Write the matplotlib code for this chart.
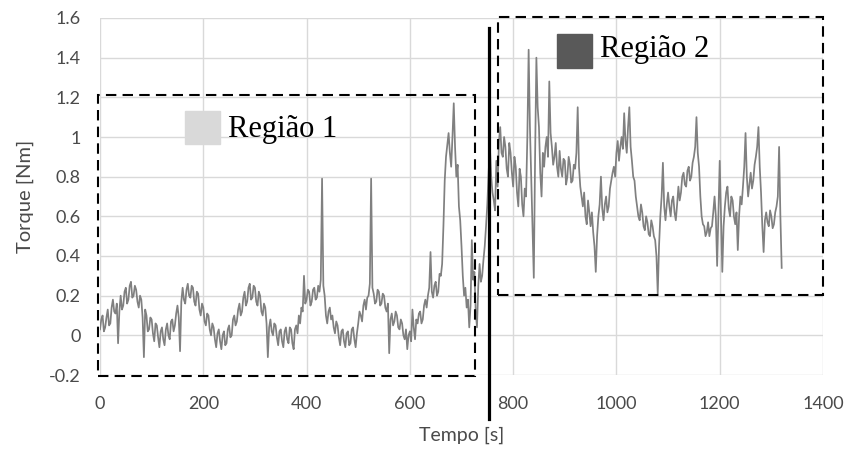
import numpy as np
import matplotlib
matplotlib.use("Agg")
import matplotlib.pyplot as plt
from matplotlib.patches import Rectangle

# ---- data ----
time_step = 2.5
torque = [
    0.03, 0.08, 0.10, 0.02, 0.04, 0.09, 0.13, 0.05, 0.06, 0.14, 0.18, 0.12, 0.11, 0.16, -0.04, 0.12, 0.20, 0.13, 0.15, 0.22,
    0.24, 0.16, 0.18, 0.25, 0.27, 0.19, 0.20, 0.25, 0.23, 0.17, 0.14, 0.20, 0.18, 0.09, -0.11, 0.13, 0.10, 0.02, 0.03, 0.09,
    0.08, 0.01, -0.03, 0.06, 0.05, -0.01, -0.06, 0.02, 0.04, -0.02, -0.05, 0.03, 0.06, 0.00, -0.02, 0.07, 0.08, 0.02, 0.05, 0.11,
    0.15, 0.09, -0.08, 0.17, 0.24, 0.18, 0.16, 0.23, 0.26, 0.20, 0.19, 0.25, 0.24, 0.17, 0.15, 0.22, 0.21, 0.13, 0.10, 0.16,
    0.14, 0.07, 0.05, 0.11, 0.10, 0.03, 0.00, 0.06, 0.04, -0.02, -0.06, 0.01, 0.03, -0.03, -0.07, 0.00, 0.02, -0.05, -0.04, 0.03,
    0.05, -0.01, 0.00, 0.08, 0.10, 0.05, 0.07, 0.13, 0.16, 0.10, 0.12, 0.19, 0.22, 0.15, 0.17, 0.24, 0.26, 0.18, 0.19, 0.25,
    0.24, 0.17, 0.15, 0.22, 0.20, 0.12, 0.10, 0.16, 0.14, 0.06, -0.11, 0.04, 0.08, 0.02, 0.00, 0.06, 0.05, -0.01, -0.05, 0.02,
    0.03, -0.03, -0.06, 0.02, 0.04, -0.02, -0.04, 0.04, 0.03, -0.04, -0.07, 0.03, 0.05, 0.01, 0.10, 0.06, 0.14, 0.12, 0.30, 0.16,
    0.18, 0.23, 0.22, 0.15, 0.17, 0.23, 0.24, 0.18, 0.19, 0.25, 0.22, 0.28, 0.79, 0.25, 0.20, 0.10, 0.06, 0.12, 0.14, 0.08,
    0.10, 0.04, 0.01, 0.07, 0.05, -0.01, -0.05, 0.02, 0.03, -0.03, -0.06, 0.01, 0.02, -0.05, -0.04, 0.03, 0.04, -0.02, -0.06, 0.01,
    0.06, 0.12, 0.10, 0.07, 0.15, 0.18, 0.13, 0.19, 0.20, 0.26, 0.79, 0.24, 0.21, 0.16, 0.17, 0.23, 0.22, 0.15, 0.16, 0.21,
    0.20, 0.14, 0.12, 0.16, -0.09, 0.08, 0.11, 0.05, 0.07, 0.12, 0.10, 0.04, 0.03, 0.08, 0.06, 0.00, -0.02, 0.03, -0.07, 0.00,
    0.02, -0.03, 0.13, 0.04, -0.02, 0.08, 0.06, 0.11, 0.12, 0.06, 0.08, 0.15, 0.18, 0.14, 0.20, 0.24, 0.42, 0.22, 0.19, 0.25,
    0.27, 0.20, 0.22, 0.31, 0.30, 0.36, 0.55, 0.78, 0.90, 0.96, 1.02, 0.92, 0.85, 1.00, 1.17, 0.95, 0.80, 0.86, 0.65, 0.58,
    0.45, 0.30, 0.20, 0.24, 0.14, 0.18, 0.04, 0.15, 0.48, 0.28, 0.32, 0.12, 0.04, 0.25, 0.36, 0.27, 0.30, 0.38, 0.45, 0.55,
    0.66, 0.82, 0.95, 0.80, 0.72, 0.68, 0.63, 0.88, 0.75, 0.98, 1.05, 0.92, 0.90, 1.00, 0.95, 0.84, 0.80, 0.97, 0.92, 0.82,
    0.75, 0.90, 0.85, 0.72, 0.65, 0.84, 0.80, 0.66, 0.60, 0.74, 0.70, 1.00, 1.44, 1.05, 0.80, 0.55, 0.29, 0.90, 1.40, 1.15,
    1.05, 0.82, 0.70, 0.92, 0.85, 0.95, 1.00, 0.90, 1.28, 1.02, 0.95, 0.86, 0.90, 0.97, 0.85, 0.80, 0.93, 0.84, 0.80, 0.89,
    0.88, 0.76, 0.80, 0.90, 0.86, 0.77, 0.78, 0.86, 0.84, 0.92, 1.15, 0.85, 0.75, 0.70, 0.65, 0.72, 0.60, 0.56, 0.68, 0.62,
    0.55, 0.62, 0.52, 0.45, 0.32, 0.50, 0.60, 0.66, 0.80, 0.64, 0.58, 0.66, 0.70, 0.62, 0.65, 0.74, 0.78, 0.82, 0.85, 0.80,
    0.92, 0.98, 0.88, 0.95, 1.00, 0.94, 1.12, 0.98, 0.92, 1.05, 1.15, 0.95, 0.88, 0.80, 0.78, 0.70, 0.65, 0.60, 0.58, 0.66,
    0.62, 0.55, 0.53, 0.60, 0.57, 0.51, 0.50, 0.58, 0.55, 0.50, 0.48, 0.40, 0.21, 0.45, 0.60, 0.70, 0.87, 0.65, 0.58, 0.66,
    0.72, 0.65, 0.60, 0.68, 0.70, 0.62, 0.58, 0.66, 0.75, 0.68, 0.72, 0.80, 0.82, 0.76, 0.75, 0.83, 0.85, 0.78, 0.80, 0.87,
    0.90, 0.95, 1.10, 0.92, 0.85, 0.70, 0.60, 0.56, 0.55, 0.50, 0.52, 0.57, 0.50, 0.54, 0.55, 0.62, 0.70, 0.60, 0.35, 0.62,
    0.88, 0.60, 0.32, 0.55, 0.65, 0.72, 0.75, 0.64, 0.60, 0.70, 0.68, 0.60, 0.56, 0.62, 0.43, 0.60, 0.70, 0.66, 0.75, 0.85,
    1.02, 0.80, 0.70, 0.76, 0.82, 0.74, 0.78, 0.86, 0.90, 0.95, 1.05, 0.85, 0.72, 0.55, 0.42, 0.58, 0.62, 0.57, 0.55, 0.63,
    0.60, 0.54, 0.56, 0.62, 0.65, 0.70, 0.95, 0.60, 0.34,
]
time = np.arange(len(torque)) * time_step

x_ticks = [0, 200, 400, 600, 800, 1000, 1200, 1400]
y_ticks = [-0.2, 0, 0.2, 0.4, 0.6, 0.8, 1, 1.2, 1.4, 1.6]
y_tick_labels = ["-0.2", "0", "0.2", "0.4", "0.6", "0.8", "1", "1.2", "1.4", "1.6"]

region_labels = ["Região 1", "Região 2"]
region_x = [(-3, 727), (770, 1400)]
region_y = [(-0.205, 1.21), (0.205, 1.605)]
split_time = 753

# ---- figure ----
fig = plt.figure(figsize=(8.5, 4.59), dpi=100)
ax = fig.add_axes([100 / 850, 1 - 375 / 459, 723 / 850, 357 / 459])

ax.set_xlim(0, 1400)
ax.set_ylim(-0.2, 1.6)
ax.set_xticks(x_ticks)
ax.set_yticks(y_ticks)
ax.set_yticklabels(y_tick_labels)
ax.grid(True, color="#d9d9d9", lw=1.0)
ax.set_axisbelow(True)
for s in ax.spines.values():
    s.set_visible(False)
ax.tick_params(length=0, labelsize=13, labelcolor="#4a4a4a")
ax.tick_params(axis="x", pad=15)
ax.tick_params(axis="y", pad=14)
for lab in ax.get_xticklabels() + ax.get_yticklabels():
    lab.set_family("Lato")

ax.plot(time, torque, color="#808080", lw=1.25, zorder=3)

# region boxes
for (x0, x1), (y0, y1) in zip(region_x, region_y):
    r = Rectangle((x0, y0), x1 - x0, y1 - y0, fill=False, ec="black",
                  lw=1.5, ls=(0, (5, 3)), clip_on=False, zorder=4)
    ax.add_patch(r)

# split line
ax.plot([split_time, split_time], [1.55, -0.42], color="black", lw=2.3,
        clip_on=False, zorder=5)

# region markers
ax.add_patch(Rectangle((165, 0.965), 67, 0.165, color="#d9d9d9", zorder=4))
ax.text(248, 1.04, region_labels[0], family="Liberation Serif", fontsize=22,
        va="center", ha="left", color="black", zorder=5)
ax.add_patch(Rectangle((885, 1.347), 67, 0.173, color="#595959", zorder=4))
ax.text(968, 1.44, region_labels[1], family="Liberation Serif", fontsize=22,
        va="center", ha="left", color="black", zorder=5)

ax.set_xlabel("Tempo [s]", family="Lato", fontsize=14, color="#4a4a4a",
              labelpad=11)
ax.set_ylabel("Torque [Nm]", family="Lato", fontsize=14.5, color="#4a4a4a",
              labelpad=11)

fig.savefig("out.png", dpi=100)
